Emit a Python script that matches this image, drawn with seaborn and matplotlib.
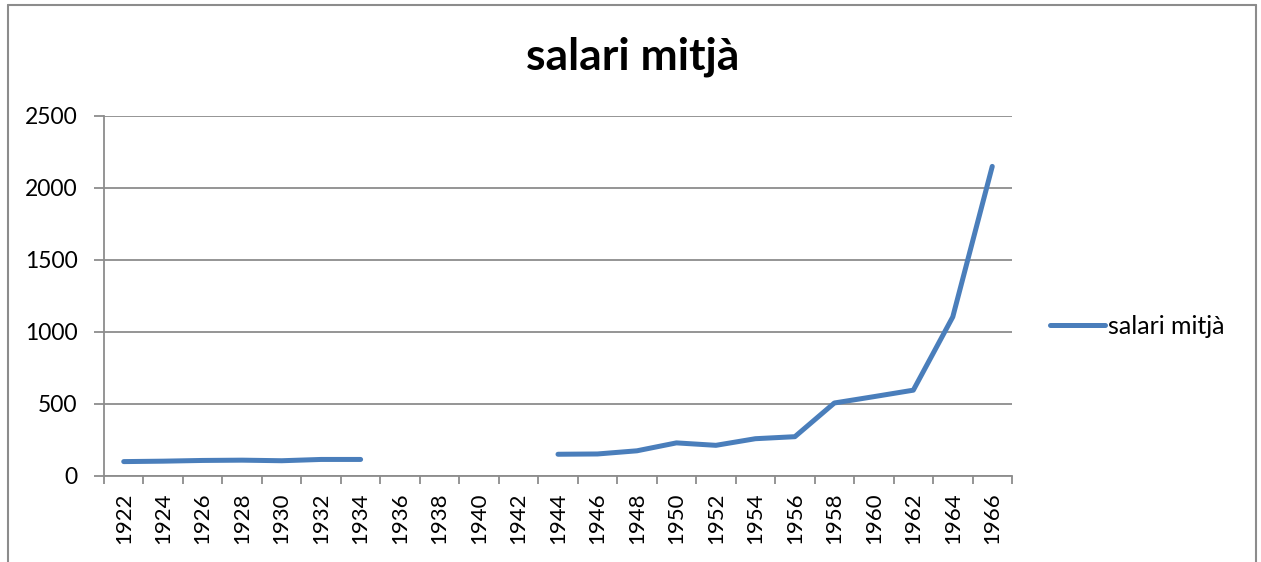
import matplotlib
matplotlib.use("Agg")
import matplotlib.pyplot as plt
from matplotlib.lines import Line2D
import numpy as np
import pandas as pd
import seaborn as sns

years = [str(y) for y in range(1922, 1967, 2)]
salari = [100, 103, 108, 110, 106, 115, 115,
          np.nan, np.nan, np.nan, np.nan,
          151, 153, 175, 230, 213, 259, 273,
          507, 551, 596, 1105, 2150]
series_name = "salari mitjà"
y_ticks = [0, 500, 1000, 1500, 2000, 2500]

sns.set_theme(style="white")
plt.rcParams['font.family'] = ['Lato', 'DejaVu Sans']
plt.rcParams['text.color'] = 'black'
plt.rcParams['xtick.color'] = 'black'
plt.rcParams['ytick.color'] = 'black'

df = pd.DataFrame({"year": years, "value": salari})
df["pos"] = np.arange(len(years))
df["segment"] = df["value"].isna().cumsum()
df = df.dropna()

fig = plt.figure(figsize=(12.61, 5.62), dpi=100)
W, H = 1261, 562
ax = fig.add_axes([104 / W, 1 - 476 / H, (1012 - 104) / W, (476 - 116) / H])

line_color = "#4A7EBB"
grid_color = "#8C8C8C"

sns.lineplot(data=df, x="pos", y="value", units="segment", estimator=None,
             color=line_color, linewidth=3.6, ax=ax, legend=False,
             solid_capstyle="round", solid_joinstyle="round")

ax.set_xlim(-0.5, len(years) - 0.5)
ax.set_ylim(0, 2500)
ax.set_yticks(y_ticks)
ax.set_yticklabels([str(t) for t in y_ticks], fontsize=16.5)
ax.set_xticks(np.arange(len(years)))
ax.set_xticklabels(years, rotation=90, fontsize=16)
ax.set_xticks(np.arange(-0.5, len(years)), minor=True)
ax.tick_params(axis="x", which="major", length=0, pad=12, labelcolor="black")
ax.tick_params(axis="x", which="minor", length=6, width=1.3, color=grid_color, bottom=True)
ax.tick_params(axis="y", which="major", length=7, width=1.3, color=grid_color, left=True,
               pad=12, labelcolor="black")
ax.set_xlabel("")
ax.set_ylabel("")
ax.yaxis.grid(True, color=grid_color, linewidth=1.3)
ax.xaxis.grid(False)
for s in ["top", "right"]:
    ax.spines[s].set_visible(False)
for s in ["left", "bottom"]:
    ax.spines[s].set_color(grid_color)
    ax.spines[s].set_linewidth(1.3)

# legend
handle = Line2D([], [], color=line_color, linewidth=3.6, solid_capstyle="round")
fig.legend([handle], [series_name], loc="center left",
           bbox_to_anchor=(1050 / W, 1 - 326 / H), frameon=False,
           fontsize=18, handlelength=2.2, handletextpad=0.12,
           borderaxespad=0, borderpad=0, labelcolor="black")

# title
fig.text(633 / W, 1 - 57 / H, series_name, ha="center", va="center",
         fontsize=32, fontweight="bold", color="black")

# chart border
bc = "#8C8C8C"
fig.add_artist(Line2D([8 / W, 8 / W], [0, 1 - 5 / H], color=bc, linewidth=1.5))
fig.add_artist(Line2D([8 / W, 1256 / W], [1 - 5 / H, 1 - 5 / H], color=bc, linewidth=1.5))
fig.add_artist(Line2D([1256 / W, 1256 / W], [0, 1 - 5 / H], color=bc, linewidth=1.5))

fig.savefig("out.png", dpi=100)
